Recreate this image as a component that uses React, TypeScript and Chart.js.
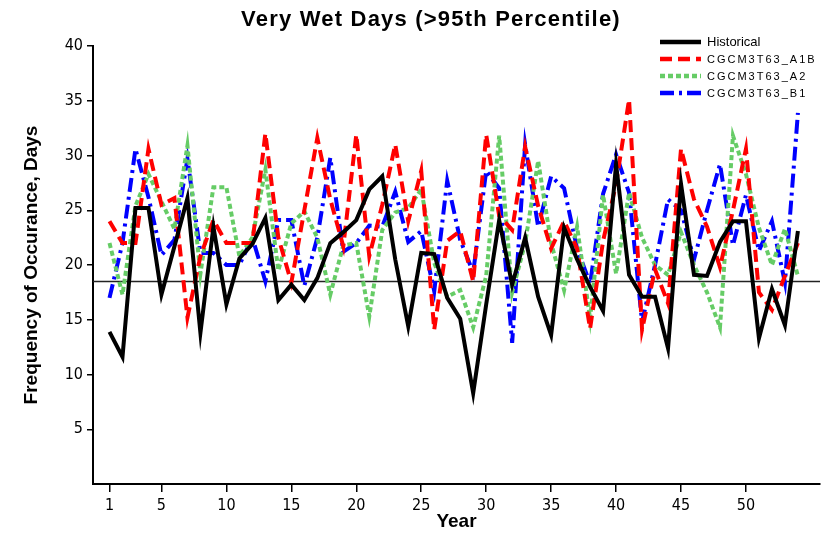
import React, { useEffect, useRef } from 'react';
import { Chart, registerables } from 'chart.js';

Chart.register(...registerables);

const TITLE = 'Very Wet Days (>95th Percentile)';
const X_TITLE = 'Year';
const Y_TITLE = 'Frequency of Occurance, Days';

const years = [
  1, 2, 3, 4, 5, 6, 7, 8, 9, 10, 11, 12, 13, 14, 15, 16, 17, 18, 19, 20,
  21, 22, 23, 24, 25, 26, 27, 28, 29, 30, 31, 32, 33, 34, 35, 36, 37, 38, 39, 40,
  41, 42, 43, 44, 45, 46, 47, 48, 49, 50, 51, 52, 53, 54,
];

const historical = [
  13.9, 11.6, 25.2, 25.2, 17.3, 21.7, 26.1, 13.8, 23.5, 16.4,
  20.6, 21.9, 24.3, 16.8, 18.2, 16.8, 18.8, 22.0, 23.0, 24.1,
  26.9, 28.1, 20.5, 14.4, 21.1, 21.0, 17.0, 15.1, 8.3, 16.4,
  24.1, 18.2, 22.5, 17.1, 13.6, 23.4, 20.5, 18.0, 15.8, 29.2,
  19.1, 17.1, 17.1, 12.4, 27.4, 19.1, 19.0, 22.1, 24.0, 24.0,
  13.3, 17.8, 14.5, 23.1,
];

const a1b = [
  24.0, 22.0, 22.0, 30.6, 25.5, 26.1, 15.2, 20.8, 24.1, 22.0,
  22.0, 22.0, 32.0, 22.5, 18.4, 25.0, 31.6, 26.0, 21.7, 31.9,
  20.8, 25.5, 31.0, 24.0, 28.6, 14.1, 22.2, 23.1, 18.5, 31.9,
  24.5, 23.2, 30.8, 25.4, 21.5, 24.0, 21.5, 14.2, 22.2, 27.4,
  35.1, 14.1, 19.6, 16.5, 30.6, 26.0, 23.5, 19.8, 25.0, 30.6,
  17.5, 15.9, 19.0, 22.0,
];

const a2 = [
  22.0, 17.3, 25.4, 28.3, 25.8, 23.3, 30.9, 19.2, 27.1, 27.1,
  20.8, 22.5, 28.7, 19.5, 23.8, 24.9, 22.5, 17.3, 21.8, 22.0,
  15.3, 23.2, 24.8, 25.2, 26.9, 20.2, 17.1, 17.7, 14.3, 19.0,
  31.8, 17.5, 22.0, 29.5, 22.0, 17.7, 23.5, 15.1, 26.4, 19.2,
  26.6, 22.5, 20.0, 19.1, 23.0, 20.0, 17.5, 14.3, 31.8, 28.3,
  23.4, 20.0, 23.3, 19.0,
];

const b1 = [
  17.0, 22.0, 30.6, 26.2, 20.9, 22.3, 29.7, 21.1, 21.1, 20.0,
  20.0, 22.5, 18.5, 24.1, 24.1, 18.1, 22.5, 29.8, 21.2, 22.0,
  23.6, 23.5, 26.7, 22.1, 23.1, 17.6, 27.7, 22.3, 19.3, 28.6,
  27.0, 12.9, 31.0, 23.5, 28.1, 27.0, 21.5, 18.3, 26.5, 30.1,
  26.6, 14.8, 20.0, 26.0, 25.0, 20.5, 25.0, 29.2, 21.8, 26.4,
  21.3, 24.0, 18.4, 33.9,
];

const thresholdValue = 18.5;
const xTicks = [1, 5, 10, 15, 20, 25, 30, 35, 40, 45, 50];
const yTicks = [5, 10, 15, 20, 25, 30, 35, 40];
const X_MIN = -0.27;
const X_MAX = 55.7;

const seriesLabels = ['Historical', 'CGCM3T63_A1B', 'CGCM3T63_A2', 'CGCM3T63_B1'];

const toPoints = (vals: number[]) => vals.map((v, i) => ({ x: years[i], y: v }));

const overlayPlugin = {
  id: 'overlay',
  afterDraw(chart: any) {
    const ctx = chart.ctx as CanvasRenderingContext2D;
    ctx.save();
    ctx.fillStyle = '#000';
    ctx.textAlign = 'center';
    ctx.textBaseline = 'middle';
    (ctx as any).letterSpacing = '1.2px';
    ctx.font = 'bold 22px "Liberation Sans", Arial, sans-serif';
    ctx.fillText(TITLE, 431, 20);

    const ds = chart.data.datasets.slice(0, 4);
    ds.forEach((d: any, i: number) => {
      const y = 42 + i * 17;
      ctx.beginPath();
      ctx.setLineDash(d.borderDash || []);
      ctx.strokeStyle = d.borderColor;
      ctx.lineWidth = 4.5;
      ctx.lineCap = 'butt';
      ctx.moveTo(660, y);
      ctx.lineTo(701, y);
      ctx.stroke();
      ctx.setLineDash([]);
      ctx.textAlign = 'left';
      ctx.fillStyle = '#000';
      if (i === 0) {
        (ctx as any).letterSpacing = '0px';
        ctx.font = '13px "Liberation Sans", Arial, sans-serif';
      } else {
        (ctx as any).letterSpacing = '2px';
        ctx.font = '11px "Liberation Sans", Arial, sans-serif';
      }
      ctx.fillText(d.label, 707, y + 0.5);
    });
    (ctx as any).letterSpacing = '0px';
    ctx.restore();
  },
};

export default function App() {
  const ref = useRef<HTMLCanvasElement | null>(null);

  useEffect(() => {
    document.body.style.margin = '0';
    const canvas = ref.current;
    if (!canvas) return;
    const tickFont = { family: '"Liberation Sans Narrow", "DejaVu Sans Condensed", Arial, sans-serif', size: 16 };
    const titleFont = { family: '"Liberation Sans", Arial, sans-serif', size: 19, weight: 'bold' as const };
    const chart = new Chart(canvas, {
      type: 'line',
      data: {
        datasets: [
          { label: seriesLabels[0], data: toPoints(historical), borderColor: '#000000', borderWidth: 4, pointRadius: 0, tension: 0 },
          { label: seriesLabels[1], data: toPoints(a1b), borderColor: '#ff0000', borderWidth: 4, borderDash: [12, 6], pointRadius: 0, tension: 0 },
          { label: seriesLabels[2], data: toPoints(a2), borderColor: '#66cc66', borderWidth: 4, borderDash: [5, 3], pointRadius: 0, tension: 0 },
          { label: seriesLabels[3], data: toPoints(b1), borderColor: '#0000ff', borderWidth: 4, borderDash: [14, 5, 3, 5], pointRadius: 0, tension: 0 },
          {
            label: 'threshold',
            data: [{ x: X_MIN, y: thresholdValue }, { x: X_MAX, y: thresholdValue }],
            borderColor: '#222222', borderWidth: 1.5, pointRadius: 0,
          },
        ],
      },
      options: {
        animation: false,
        responsive: false,
        devicePixelRatio: 1,
        layout: { padding: { top: 46, right: 11, left: 0, bottom: 0 } },
        plugins: { legend: { display: false }, title: { display: false }, tooltip: { enabled: false } },
        scales: {
          x: {
            type: 'linear',
            min: X_MIN,
            max: X_MAX,
            afterBuildTicks: (scale: any) => { scale.ticks = xTicks.map((v) => ({ value: v })); },
            afterFit: (scale: any) => { scale.height = 51; },
            ticks: { autoSkip: false, maxRotation: 0, color: '#000', font: tickFont, padding: 4 },
            grid: { drawOnChartArea: false, tickLength: 8, color: '#000', lineWidth: 1.5 },
            border: { color: '#000', width: 2 },
            title: { display: true, text: X_TITLE, color: '#000', font: titleFont, padding: { top: 0, bottom: 2 } },
          },
          y: {
            type: 'linear',
            min: 0,
            max: 40,
            afterBuildTicks: (scale: any) => { scale.ticks = yTicks.map((v) => ({ value: v })); },
            afterFit: (scale: any) => { scale.width = 93; },
            ticks: { color: '#000', font: tickFont, padding: 4 },
            grid: { drawOnChartArea: false, tickLength: 6, color: '#000', lineWidth: 1.5 },
            border: { color: '#000', width: 2 },
            title: { display: true, text: Y_TITLE, color: '#000', font: titleFont, padding: { top: 20, bottom: 0 } },
          },
        },
      },
      plugins: [overlayPlugin],
    });
    return () => chart.destroy();
  }, []);

  return (
    <div style={{ width: 831, height: 535 }}>
      <canvas ref={ref} width={831} height={535} style={{ width: 831, height: 535, display: 'block' }} />
    </div>
  );
}
